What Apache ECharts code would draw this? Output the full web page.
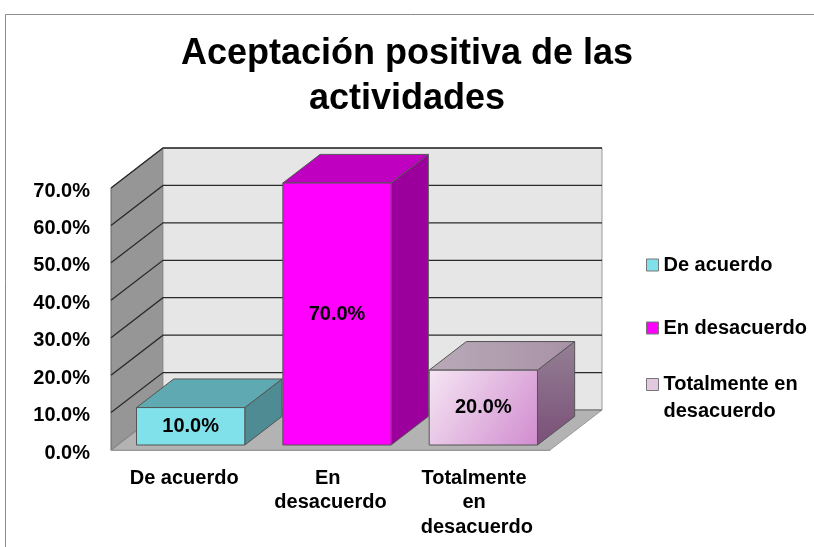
<!DOCTYPE html>
<html style="height: 100%">
<head>
<meta charset="utf-8">
</head>
<body style="height: 100%; margin: 0; background: #fff">
<div id="container" style="width: 814px; height: 547px"></div>
<script type="text/javascript" src="https://cdn.jsdelivr.net/npm/echarts@6/dist/echarts.min.js"></script>
<script type="text/javascript">
// data
var categories = ['De acuerdo', 'En desacuerdo', 'Totalmente en desacuerdo'];
var values = [10, 70, 20];
var yTicks = [0, 10, 20, 30, 40, 50, 60, 70];

// face colours: front, top, side
var frontColors = [
    '#80e1ea',
    '#ff00ff',
    {type: 'linear', x: 0, y: 0, x2: 1, y2: 1, colorStops: [{offset: 0, color: '#f5e6f3'}, {offset: 1, color: '#d18ccf'}]}
];
var topColors = [
    '#5ea9b2',
    '#c000c0',
    {type: 'linear', x: 0, y: 0, x2: 1, y2: 0, colorStops: [{offset: 0, color: '#b9aab8'}, {offset: 1, color: '#a891a6'}]}
];
var sideColors = [
    '#4f8b92',
    '#9c009c',
    {type: 'linear', x: 0, y: 0, x2: 0, y2: 1, colorStops: [{offset: 0, color: '#948094'}, {offset: 1, color: '#7a4f78'}]}
];
var legendColors = ['#80e1ea', '#ff00ff', '#e2c9e0'];

// fake depth of the 3d box, in pixels
var DX = 52, DY = -40;
var F0 = 0.125, F1 = 0.84;
var BAR_W = 0.74;
var FONT = 'bold 20px Arial';

// legend squares: centred, or on the first line of a two line name
var ICON_MID = 'path://M0,0M0,39M0,13.5h12v12h-12z';
var ICON_TOP = 'path://M0,39M0,0h12v12h-12z';

var dom = document.getElementById('container');
var myChart = echarts.init(dom);

function renderWalls(params, api) {
    var cs = params.coordSys;
    var x0 = cs.x, x1 = cs.x + cs.width, yt = cs.y, yb = cs.y + cs.height;
    var y = api.coord([0, api.value(1)])[1];
    var children = [];
    if (params.dataIndex === 0) {
        children.push({
            type: 'polygon',
            shape: {points: [[x0, yb], [x0, yt], [x0 + DX, yt + DY], [x0 + DX, yb + DY]]},
            style: {fill: '#969696', stroke: '#666', lineWidth: 1}
        });
        children.push({
            type: 'rect',
            shape: {x: x0 + DX, y: yt + DY, width: cs.width, height: cs.height},
            style: {fill: '#e6e6e6', stroke: '#999', lineWidth: 1}
        });
        children.push({
            type: 'polygon',
            shape: {points: [[x0, yb], [x1, yb], [x1 + DX, yb + DY], [x0 + DX, yb + DY]]},
            style: {fill: '#b3b3b3', stroke: '#999', lineWidth: 1}
        });
    }
    children.push({
        type: 'polyline',
        shape: {points: [[x0, y], [x0 + DX, y + DY], [x1 + DX, y + DY]]},
        style: {stroke: api.value(1) === 0 ? '#888' : '#2a2a2a', lineWidth: 1.3, fill: null}
    });
    return {type: 'group', children: children};
}

function makeBox(k) {
    return function (params, api) {
        var i = api.value(0), v = api.value(1);
        var base = api.coord([i, 0]);
        var top = api.coord([i, v]);
        var bw = api.size([1, 0])[0] * BAR_W;
        var xl = base[0] - bw / 2 + F0 * DX, xr = xl + bw;
        var yb = base[1] + F0 * DY, yt = top[1] + F0 * DY;
        var ddx = (F1 - F0) * DX, ddy = (F1 - F0) * DY;
        var line = {stroke: '#555', lineWidth: 1};
        return {
            type: 'group',
            children: [
                {
                    type: 'polygon',
                    shape: {points: [[xr, yt], [xr + ddx, yt + ddy], [xr + ddx, yb + ddy], [xr, yb]]},
                    style: Object.assign({fill: sideColors[k]}, line)
                },
                {
                    type: 'polygon',
                    shape: {points: [[xl, yt], [xr, yt], [xr + ddx, yt + ddy], [xl + ddx, yt + ddy]]},
                    style: Object.assign({fill: topColors[k]}, line)
                },
                {
                    type: 'rect',
                    shape: {x: xl, y: yt, width: bw, height: yb - yt},
                    style: Object.assign({fill: frontColors[k]}, line)
                },
                {
                    type: 'text',
                    x: (xl + xr) / 2,
                    y: (yt + yb) / 2,
                    style: {text: v.toFixed(1) + '%', font: FONT, fill: '#000', align: 'center', verticalAlign: 'middle'}
                }
            ]
        };
    };
}

var series = [{
    type: 'custom',
    name: 'walls',
    z: 1,
    silent: true,
    renderItem: renderWalls,
    data: yTicks.map(function (t) { return [0, t]; })
}];
categories.forEach(function (name, k) {
    series.push({
        type: 'custom',
        name: name,
        z: 3,
        itemStyle: {color: legendColors[k]},
        renderItem: makeBox(k),
        data: [[k, values[k]]]
    });
});

option = {
    animation: false,
    title: {
        text: 'Aceptación positiva de las\nactividades',
        left: 'center',
        top: 32,
        padding: [0, 0, 0, 12],
        textStyle: {fontFamily: 'Arial', fontWeight: 'bold', fontSize: 36, lineHeight: 45, color: '#000'}
    },
    legend: {
        orient: 'vertical',
        left: 641,
        top: 240,
        itemWidth: 12,
        itemHeight: 39,
        itemGap: 23,
        data: categories.map(function (name, k) {
            return {
                name: name,
                icon: name.length > 15 ? ICON_TOP : ICON_MID,
                itemStyle: {color: legendColors[k], borderColor: '#777', borderWidth: 1}
            };
        }),
        textStyle: {fontFamily: 'Arial', fontWeight: 'bold', fontSize: 20, lineHeight: 27, color: '#000', width: 150, overflow: 'break'}
    },
    graphic: [{
        type: 'rect',
        shape: {x: 5.5, y: 14.5, width: 900, height: 700},
        style: {fill: null, stroke: '#8c8c8c', lineWidth: 1},
        silent: true
    }],
    grid: {left: 111, top: 188, width: 439, height: 262},
    xAxis: {
        type: 'category',
        data: categories,
        z: 4,
        axisLine: {lineStyle: {color: '#9a9a9a', width: 1}},
        axisTick: {length: 5, lineStyle: {color: '#9a9a9a'}},
        axisLabel: {
            fontFamily: 'Arial', fontWeight: 'bold', fontSize: 20, color: '#000',
            lineHeight: 24.5, margin: 16, width: 120, overflow: 'break', interval: 0
        }
    },
    yAxis: {
        type: 'value',
        min: 0,
        max: 70,
        interval: 10,
        axisLine: {show: false},
        axisTick: {show: false},
        splitLine: {show: false},
        axisLabel: {
            fontFamily: 'Arial', fontWeight: 'bold', fontSize: 20, color: '#000', margin: 21,
            verticalAlign: 'top', lineHeight: 6,
            formatter: function (v) { return v.toFixed(1) + '%'; }
        }
    },
    series: series
};

myChart.setOption(option, true);
</script>
</body>
</html>
